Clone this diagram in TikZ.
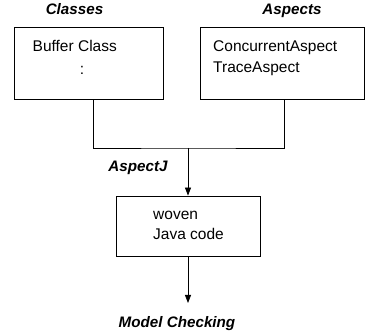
\documentclass[tikz,border=0pt]{standalone}
\usepackage{fontspec}
\setmainfont{Liberation Sans}
\usetikzlibrary{arrows.meta}
\begin{document}
\begin{tikzpicture}[x=1pt,y=-1pt,
  box/.style={draw,line width=0.8pt,rectangle,inner sep=0pt},
  txt/.style={inner sep=0pt,anchor=base west,font=\fontsize{15.5}{18}\selectfont},
  ttl/.style={inner sep=0pt,anchor=base,font=\fontsize{15.2}{18}\selectfont\bfseries\itshape},
  wire/.style={line width=0.8pt},
  arr/.style={line width=0.8pt,-{Triangle[length=8pt,width=6pt]}}]
\useasboundingbox (0,0) rectangle (365,334);
% boxes
\node[box,minimum width=149pt,minimum height=72pt] (cls) at (88.5,63) {};
\node[box,minimum width=164pt,minimum height=72pt] (asp) at (282,63) {};
\node[box,minimum width=144pt,minimum height=60pt] (wov) at (188,226) {};
% titles
\node[ttl] (tcls) at (74.5,15) {Classes};
\node[ttl] (tasp) at (292,15) {Aspects};
\node[ttl] (taj) at (138,172) {AspectJ};
\node[ttl] (tmc) at (177,328) {Model Checking};
% box texts
\node[txt] (b1) at (32.5,52) {Buffer Class};
\node[txt,anchor=base] (b2) at (82,75) {:};
\node[txt] (a1) at (213,52) {ConcurrentAspect};
\node[txt] (a2) at (213,73) {TraceAspect};
\node[txt] (w1) at (153,220) {woven};
\node[txt] (w2) at (153,240) {Java code};
% connectors
\coordinate (j) at (188,148);
\coordinate (mc) at (188,303);
\draw[wire] ([xshift=4.5pt]cls.south) |- (j) -| ([xshift=2pt]asp.south);
\draw[arr] (j) -- (wov.north);
\draw[arr] (wov.south) -- (mc);
\end{tikzpicture}
\end{document}
